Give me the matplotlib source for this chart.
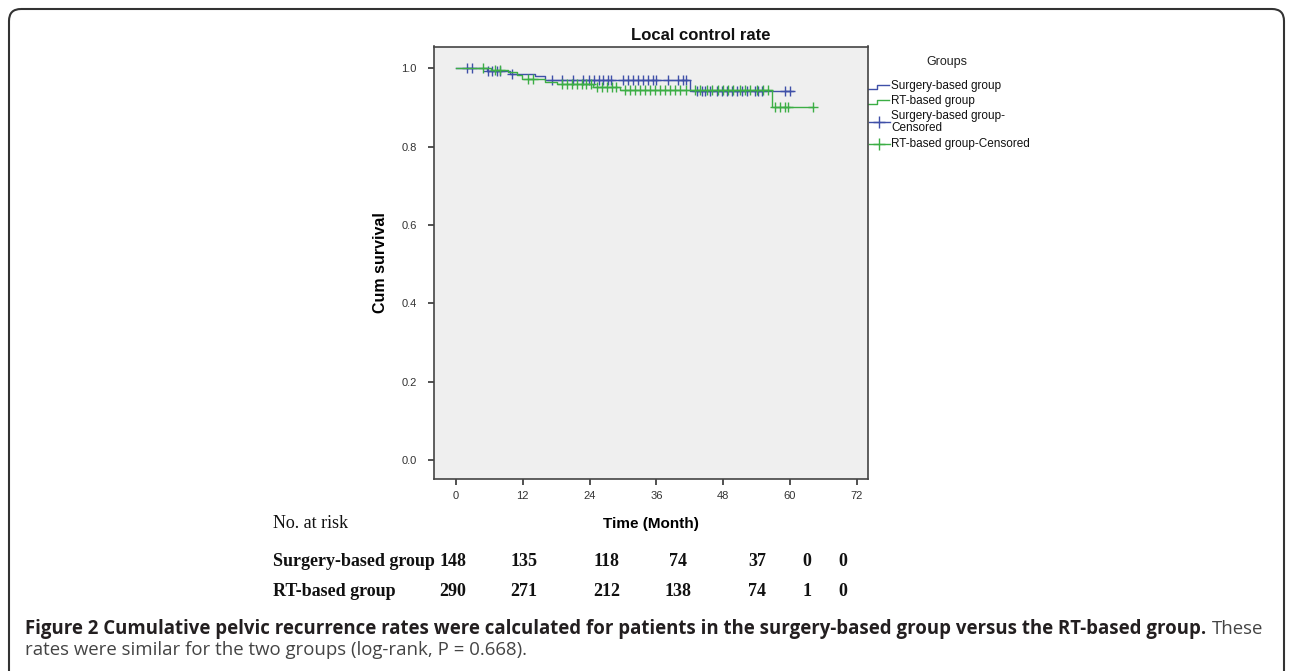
import numpy as np
import matplotlib
matplotlib.use("Agg")
import matplotlib.pyplot as plt
from matplotlib.patches import FancyBboxPatch

# Kaplan-Meier steps (months, cumulative survival)
surg_event_t = [5.5, 9.7, 14.2, 16.0, 42.0]
surg_surv = [0.993, 0.987, 0.981, 0.970, 0.942]
surg_end = 60.6
surg_cens_t = [1.9, 2.8, 5.8, 6.4, 7.3, 7.9, 10.0, 17.2, 19.0, 21.1, 22.9, 23.8,
               24.7, 25.6, 26.4, 27.3, 27.9, 30.0, 30.9, 31.8, 32.7, 33.6, 34.5,
               35.4, 36.0, 38.1, 39.9, 40.8, 41.4, 43.2, 44.1, 44.7, 45.6, 46.8,
               47.7, 48.6, 49.5, 50.4, 51.3, 52.2, 53.7, 54.3, 54.9, 59.1, 60.0]

rt_event_t = [6.2, 9.4, 10.9, 11.8, 16.0, 18.1, 24.6, 29.4, 56.7]
rt_surv = [0.9966, 0.990, 0.983, 0.972, 0.965, 0.959, 0.953, 0.946, 0.902]
rt_end = 64.1
rt_cens_t = [4.9, 7.0, 7.9, 12.9, 13.9, 19.0, 19.9, 20.8, 21.7, 22.6, 23.4, 24.3,
             25.3, 26.2, 27.1, 28.0, 28.8, 30.3, 31.2, 32.1, 33.0, 33.9, 34.8,
             35.7, 36.6, 37.5, 38.4, 39.3, 40.2, 41.4, 42.9, 43.8, 45.0, 45.9,
             47.1, 48.0, 48.9, 49.8, 51.0, 51.9, 52.8, 54.0, 55.2, 56.1, 57.3,
             58.2, 59.1, 59.7, 64.1]

x_ticks = [0, 12, 24, 36, 48, 60, 72]
y_ticks = [0.0, 0.2, 0.4, 0.6, 0.8, 1.0]

groups = ["Surgery-based group", "RT-based group"]
risk_surg = [148, 135, 118, 74, 37, 0, 0]
risk_rt = [290, 271, 212, 138, 74, 1, 0]

blue = "#3f50a8"
green = "#3cae45"

W, H = 1292, 671
fig = plt.figure(figsize=(W / 100, H / 100), dpi=100)

# overlay in pixel coordinates for frame, legend, table and caption
ov = fig.add_axes([0, 0, 1, 1])
ov.set_xlim(0, W)
ov.set_ylim(H, 0)
ov.axis("off")
ov.add_patch(FancyBboxPatch((9, 9), 1275, 700, boxstyle="round,pad=0,rounding_size=12",
                            fc="none", ec="#333333", lw=1.5))

ax = fig.add_axes([434 / W, 1 - 479 / H, (868 - 434) / W, (479 - 46.5) / H])
ax.set_facecolor("#efefef")


def km_curve(ax, ev_t, surv, end, cens, color):
    xs = [0] + ev_t + [end]
    ys = [1.0] + surv + [surv[-1]]
    ax.step(xs, ys, where="post", color=color, lw=1.0)
    levels = np.array([1.0] + surv)
    cy = levels[np.searchsorted(ev_t, cens, side="right")]
    ax.plot(cens, cy, ls="none", marker="+", ms=7, mew=1.0, color=color)


km_curve(ax, surg_event_t, surg_surv, surg_end, surg_cens_t, blue)
km_curve(ax, rt_event_t, rt_surv, rt_end, rt_cens_t, green)

ax.set_xlim(-3.95, 74.0)
ax.set_ylim(-0.049, 1.056)
ax.set_xticks(x_ticks)
ax.set_yticks(y_ticks)
ax.set_yticklabels(["%.1f" % v for v in y_ticks])
ax.tick_params(direction="out", length=4.5, width=1.2, color="#333333",
               labelsize=8, labelcolor="#333333")
ax.tick_params(axis="y", pad=8)
ax.tick_params(axis="x", pad=4)
for s in ax.spines.values():
    s.set_color("#444444")
    s.set_linewidth(1.2)

ax.set_xlabel("Time (Month)", fontsize=11, fontweight="bold", family="Liberation Sans")
ax.xaxis.set_label_coords(0.5, -0.088)
ax.set_ylabel("Cum survival", fontsize=11.5, fontweight="bold", family="Liberation Sans")
ax.yaxis.set_label_coords(-0.106, 0.5)
for lab in ax.get_xticklabels() + ax.get_yticklabels():
    lab.set_family("Liberation Sans")

ov.text(701, 35, "Local control rate", ha="center", va="center", fontsize=12,
        fontweight="bold", family="Liberation Sans", color="#111111")

# legend
ov.text(947, 62, "Groups", ha="center", va="center", fontsize=9,
        family="Liberation Sans", color="#222222")
for yy, col, name in [(86, blue, groups[0]), (101, green, groups[1])]:
    ov.plot([868, 877, 877, 889], [yy + 3, yy + 3, yy - 1, yy - 1], color=col, lw=1.0)
    ov.text(891, yy, name, ha="left", va="center", fontsize=8.5,
            family="Liberation Sans", color="#111111")
for yy, col, name in [(122, blue, groups[0] + "-\nCensored"),
                      (144, green, groups[1] + "-Censored")]:
    ov.plot([869, 890], [yy, yy], color=col, lw=1.0)
    ov.plot([879], [yy], marker="+", ms=9, mew=1.0, color=col)
    ov.text(891, yy, name, ha="left", va="center", fontsize=8.5, linespacing=0.9,
            family="Liberation Sans", color="#111111")

# number at risk table
col_x = [453, 524, 607, 678, 757, 807, 843]
tfont = dict(family="Liberation Serif", fontweight="bold", fontsize=13, color="#111111")
ov.text(273, 524, "No. at risk", ha="left", va="center", **{**tfont, "fontweight": "normal"})
for yy, name, vals in [(562, groups[0], risk_surg), (592, groups[1], risk_rt)]:
    ov.text(273, yy, name, ha="left", va="center", **tfont)
    for cx, v in zip(col_x, vals):
        ov.text(cx, yy, str(v), ha="center", va="center", **tfont)

# caption
r = fig.canvas.get_renderer()
cap_b = ("Figure 2 Cumulative pelvic recurrence rates were calculated for patients in "
         "the surgery-based group versus the RT-based group.")
t1 = ov.text(25, 629, cap_b, ha="left", va="center", fontsize=13.45, fontweight="bold",
             family="Open Sans", color="#231f20")
bb = t1.get_window_extent(renderer=r)
ov.text(bb.x1 + 6, 629, "These", ha="left", va="center", fontsize=13.45,
        family="Open Sans", color="#444444")
ov.text(25, 650, "rates were similar for the two groups (log-rank, P = 0.668).",
        ha="left", va="center", fontsize=13.45, family="Open Sans", color="#444444")

fig.savefig("out.png", dpi=100)
